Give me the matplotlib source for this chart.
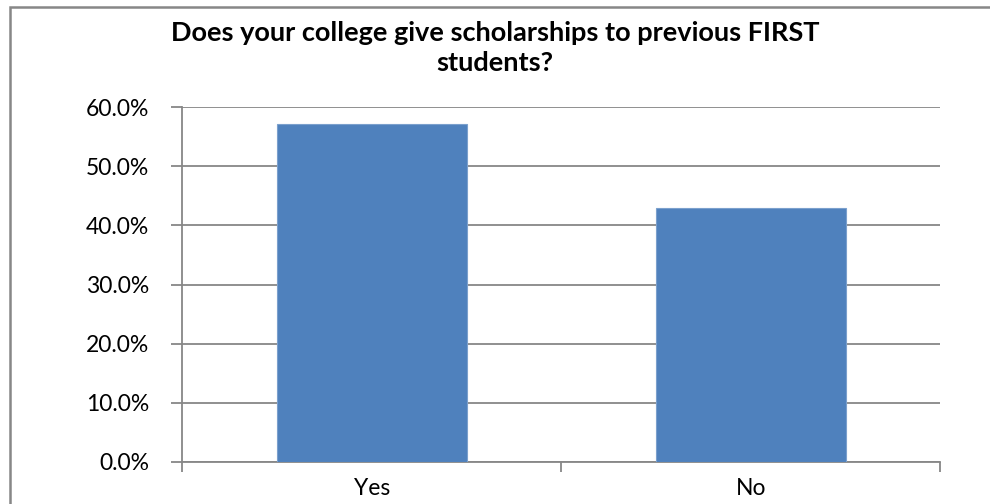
import matplotlib.pyplot as plt
from matplotlib.ticker import FuncFormatter
from matplotlib.patches import Rectangle

categories = ["Yes", "No"]
shares = [57.1, 42.9]
y_ticks = [0, 10, 20, 30, 40, 50, 60]
title = "Does your college give scholarships to previous FIRST\nstudents?"

plt.rcParams['font.family'] = ['Lato', 'DejaVu Sans']

fig = plt.figure(figsize=(9.9, 5.04), dpi=100)
fig.patch.set_facecolor('white')

# chart-area border (only top and left are visible in the crop)
fig.patches.append(Rectangle((9.5 / 990, -0.1), 1.2, 1.1 - 7.5 / 504,
                             transform=fig.transFigure, fill=False,
                             edgecolor='#878787', linewidth=1.8))

ax = fig.add_axes([182.3 / 990, 42.3 / 504, 758 / 990, 354.4 / 504])

x = range(len(categories))
ax.bar(x, shares, width=0.5, color='#4F81BD', edgecolor='#7BA0CD',
       linewidth=0.8, zorder=3)

ax.set_xlim(-0.5, len(categories) - 0.5)
ax.set_ylim(0, 60)
ax.set_yticks(y_ticks)
ax.yaxis.set_major_formatter(FuncFormatter(lambda v, p: f"{v:.1f}%"))
ax.set_xticks([-0.5, 0.5, 1.5], minor=False)
ax.set_xticklabels([])
ax.set_xticks(list(x), minor=True)
ax.set_xticklabels(categories, minor=True)

ax.grid(axis='y', color='#878787', linewidth=1.3, zorder=0)
for s in ['top', 'right']:
    ax.spines[s].set_visible(False)
for s in ['left', 'bottom']:
    ax.spines[s].set_color('#878787')
    ax.spines[s].set_linewidth(1.3)

ax.tick_params(axis='y', which='major', length=8, width=1.3, color='#878787',
               labelsize=16.5, pad=16, labelcolor='black')
ax.tick_params(axis='x', which='major', length=7, width=1.3, color='#878787')
ax.tick_params(axis='x', which='minor', length=0, labelsize=16.5, pad=12,
               labelcolor='black')

fig.text(0.5, 1 - 48 / 504, title, ha='center', va='center',
         fontsize=19.5, fontweight='bold', linespacing=1.3)

fig.savefig('out.png', dpi=100)
